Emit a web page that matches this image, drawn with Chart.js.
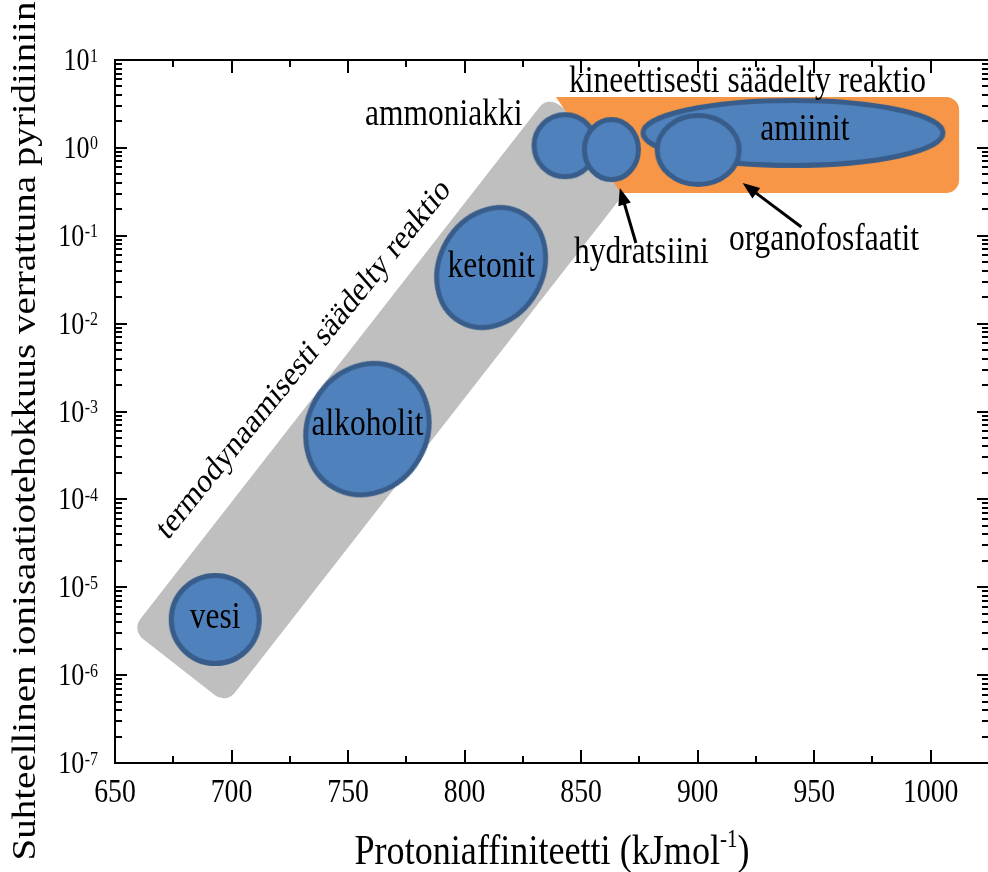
<!DOCTYPE html>
<html>
<head>
<meta charset="utf-8">
<script src="https://cdn.jsdelivr.net/npm/chart.js@4/dist/chart.umd.min.js"></script>
<style>
html,body{margin:0;padding:0;overflow:hidden;background:#fff;}
#wrap{width:995px;height:872px;position:relative;}
</style>
</head>
<body>
<div id="wrap"><canvas id="c"></canvas></div>
<script>
// ---------------- data ----------------
const xTickValues = [650, 700, 750, 800, 850, 900, 950, 1000];
const xTickLabels = ['650', '700', '750', '800', '850', '900', '950', '1000'];
const xMinorTickValues = [675, 725, 775, 825, 875, 925, 975];
const yTickExponents = [-7, -6, -5, -4, -3, -2, -1, 0, 1];
const yMinorMantissas = [2, 3, 4, 5, 6, 7, 8, 9];
const xTitleMain = 'Protoniaffiniteetti (kJmol';
const xTitleSup = '-1';
const xTitleEnd = ')';
const yTitle = 'Suhteellinen ionisaatiotehokkuus verrattuna pyridiiniin';

// compound groups (drawing order) : proton affinity (kJ/mol) and relative efficiency
const groups = ['vesi', 'alkoholit', 'ketonit', 'ammoniakki', 'hydratsiini', 'amiinit', 'organofosfaatit'];
const groupAffinity = [693.0, 758.3, 811.4, 843.1, 863.0, 940.9, 900.2];
const groupEfficiency = [4.3e-6, 6.3e-4, 4.35e-2, 1.06, 0.958, 1.48, 0.946];

// thermodynamically controlled region (inner corners of the rounded band)
const thermoAffinity = [665.6, 696.6, 867.9, 836.8];
const thermoEfficiency = [3.47e-6, 7.87e-7, 0.527, 2.32];
// kinetically controlled region (two pieces)
const kineticAffinity = [876.0, 1006.6, 1006.6, 876.0];
const kineticEfficiency = [2.70, 2.70, 0.431, 0.431];
const kineticEdgeAffinity = [839.2, 876.9, 876.9, 867.0];
const kineticEdgeEfficiency = [3.79, 3.79, 0.3065, 0.3065];

// text annotations
const regionLabels = ['termodynaamisesti säädelty reaktio', 'kineettisesti säädelty reaktio'];
const regionLabelAffinity = [733.5, 921.4];
const regionLabelEfficiency = [3.3e-3, 4.29];
const calloutLabels = ['ammoniakki', 'hydratsiini', 'organofosfaatit'];
const calloutAffinity = [791.1, 875.8, 954.2];
const calloutEfficiency = [1.82, 0.049, 0.0689];
const arrowTailAffinity = [873.5, 944.5];
const arrowTailEfficiency = [0.0827, 0.1258];
const arrowTipAffinity = [866.6, 919.3];
const arrowTipEfficiency = [0.3495, 0.3984];

// ---------------- styles ----------------
const SQ = 0.84; // horizontal squeeze of lettering
const FONT = '"Liberation Serif", "Times New Roman", serif';
const BLUE = '#4f81bd', BLUE_EDGE = '#385d8a', GRAY = '#bfbfbf', ORANGE = '#f79646';
const ellipseStyle = {
  vesi:            {a: 44,   b: 44,   rot: 0,   label: true, dx: 0,  dy: 8.5},
  alkoholit:       {a: 67.5, b: 59.5, rot: -60, label: true, dx: 0,  dy: 6},
  ketonit:         {a: 62.5, b: 51.5, rot: -60, label: true, dx: 0,  dy: 9.5},
  ammoniakki:      {a: 31,   b: 31,   rot: 0},
  hydratsiini:     {a: 27,   b: 30,   rot: 0},
  amiinit:         {a: 150,  b: 32.5, rot: 0,   label: true, dx: 12, dy: 7},
  organofosfaatit: {a: 41,   b: 34.5, rot: 0}
};

function ellipseImage(a, b, lw) {
  const c = document.createElement('canvas');
  const w = Math.ceil(2 * a + lw + 4), h = Math.ceil(2 * b + lw + 4);
  c.width = w; c.height = h;
  const g = c.getContext('2d');
  g.beginPath();
  g.ellipse(w / 2, h / 2, a, b, 0, 0, Math.PI * 2);
  g.fillStyle = BLUE; g.fill();
  g.lineWidth = lw; g.strokeStyle = BLUE_EDGE; g.stroke();
  return c;
}
const pointImages = groups.map(n => ellipseImage(ellipseStyle[n].a, ellipseStyle[n].b, 5));
const pointRotations = groups.map(n => ellipseStyle[n].rot);

function poly(xs, ys) {
  const pts = xs.map((v, i) => ({x: v, y: ys[i]}));
  pts.push({x: xs[0], y: ys[0]});
  return pts;
}

function sqText(ctx, text, x, y, size, align, angleDeg) {
  ctx.save();
  ctx.translate(x, y);
  ctx.scale(SQ, 1);
  if (angleDeg) ctx.rotate(angleDeg * Math.PI / 180);
  ctx.font = size + 'px ' + FONT;
  ctx.textAlign = align;
  ctx.textBaseline = 'alphabetic';
  ctx.fillStyle = '#000';
  ctx.fillText(text, 0, 0);
  ctx.restore();
}
function sqWidth(ctx, text, size) {
  ctx.save();
  ctx.font = size + 'px ' + FONT;
  const w = ctx.measureText(text).width * SQ;
  ctx.restore();
  return w;
}
function arrow(ctx, x0, y0, x1, y1) {
  const ang = Math.atan2(y1 - y0, x1 - x0);
  const hl = 17, hw = 6.5;
  const bx = x1 - hl * Math.cos(ang), by = y1 - hl * Math.sin(ang);
  ctx.beginPath();
  ctx.moveTo(x0, y0); ctx.lineTo(bx + Math.cos(ang), by + Math.sin(ang));
  ctx.lineWidth = 3; ctx.strokeStyle = '#000'; ctx.stroke();
  ctx.beginPath();
  ctx.moveTo(x1, y1);
  ctx.lineTo(bx + hw * Math.sin(ang), by - hw * Math.cos(ang));
  ctx.lineTo(bx - hw * Math.sin(ang), by + hw * Math.cos(ang));
  ctx.closePath(); ctx.fillStyle = '#000'; ctx.fill();
}

const decor = {
  id: 'decor',
  afterDraw(chart) {
    const {ctx, chartArea: a, scales: {x, y}} = chart;
    ctx.save();
    // labels inside the ellipses
    groups.forEach((n, i) => {
      const s = ellipseStyle[n];
      if (!s.label) return;
      sqText(ctx, n, x.getPixelForValue(groupAffinity[i]) + s.dx, y.getPixelForValue(groupEfficiency[i]) + s.dy, 37.5, 'center');
    });
    // region labels
    sqText(ctx, regionLabels[0], x.getPixelForValue(regionLabelAffinity[0]), y.getPixelForValue(regionLabelEfficiency[0]), 34.5, 'center', -46);
    sqText(ctx, regionLabels[1], x.getPixelForValue(regionLabelAffinity[1]), y.getPixelForValue(regionLabelEfficiency[1]), 37.5, 'center');
    // callouts
    calloutLabels.forEach((t, i) => sqText(ctx, t, x.getPixelForValue(calloutAffinity[i]), y.getPixelForValue(calloutEfficiency[i]), 37.5, 'center'));
    arrowTailAffinity.forEach((v, i) => arrow(ctx,
      x.getPixelForValue(v), y.getPixelForValue(arrowTailEfficiency[i]),
      x.getPixelForValue(arrowTipAffinity[i]), y.getPixelForValue(arrowTipEfficiency[i])));

    // frame and inward ticks
    ctx.strokeStyle = '#000'; ctx.lineWidth = 2;
    ctx.strokeRect(a.left, a.top, a.right - a.left, a.bottom - a.top);
    ctx.beginPath();
    xTickValues.forEach(v => {
      const p = Math.round(x.getPixelForValue(v));
      ctx.moveTo(p, a.bottom); ctx.lineTo(p, a.bottom - 13);
      ctx.moveTo(p, a.top); ctx.lineTo(p, a.top + 13);
    });
    xMinorTickValues.forEach(v => {
      const p = Math.round(x.getPixelForValue(v));
      ctx.moveTo(p, a.bottom); ctx.lineTo(p, a.bottom - 7);
      ctx.moveTo(p, a.top); ctx.lineTo(p, a.top + 7);
    });
    yTickExponents.forEach(e => {
      const p = Math.round(y.getPixelForValue(Math.pow(10, e)));
      ctx.moveTo(a.left, p); ctx.lineTo(a.left + 12, p);
      ctx.moveTo(a.right, p); ctx.lineTo(a.right - 12, p);
      if (e < yTickExponents[yTickExponents.length - 1]) {
        yMinorMantissas.forEach(m => {
          const q = Math.round(y.getPixelForValue(m * Math.pow(10, e)));
          ctx.moveTo(a.left, q); ctx.lineTo(a.left + 7, q);
          ctx.moveTo(a.right, q); ctx.lineTo(a.right - 7, q);
        });
      }
    });
    ctx.stroke();

    // x tick labels
    xTickValues.forEach((v, i) => sqText(ctx, xTickLabels[i], x.getPixelForValue(v), a.bottom + 39, 33, 'center'));
    // y tick labels 10^e
    yTickExponents.forEach(e => {
      const p = y.getPixelForValue(Math.pow(10, e));
      const sup = String(e);
      const ws = sqWidth(ctx, sup, 19);
      const right = 98;
      sqText(ctx, sup, right, p + 1.5, 19, 'right');
      sqText(ctx, '10', right - ws - 0.5, p + 10, 31, 'right');
    });
    // x title
    const w1 = sqWidth(ctx, xTitleMain, 43), w2 = sqWidth(ctx, xTitleSup, 25), w3 = sqWidth(ctx, xTitleEnd, 43);
    let sx = 552 - (w1 + w2 + w3) / 2;
    sqText(ctx, xTitleMain, sx, 864, 43, 'left'); sx += w1;
    sqText(ctx, xTitleSup, sx, 847, 25, 'left'); sx += w2;
    sqText(ctx, xTitleEnd, sx, 864, 43, 'left');
    // y title
    sqText(ctx, yTitle, 34.5, 431, 39, 'center', -90);
    ctx.restore();
  }
};

new Chart(document.getElementById('c'), {
  type: 'scatter',
  data: {
    datasets: [
      {
        label: 'Yhdisteryhmät',
        data: groups.map((n, i) => ({x: groupAffinity[i], y: groupEfficiency[i]})),
        pointStyle: pointImages,
        pointRotation: pointRotations,
        pointRadius: 5,
        order: 0
      },
      {
        type: 'line',
        label: 'kineettisesti säädelty reaktio',
        data: poly(kineticAffinity, kineticEfficiency),
        fill: 'shape', backgroundColor: ORANGE, borderColor: ORANGE,
        borderWidth: 26, borderJoinStyle: 'round', borderCapStyle: 'round',
        pointRadius: 0, tension: 0, order: 1
      },
      {
        type: 'line',
        label: 'kineettisesti säädelty reaktio (reuna)',
        data: poly(kineticEdgeAffinity, kineticEdgeEfficiency),
        fill: 'shape', backgroundColor: ORANGE, borderColor: ORANGE,
        borderWidth: 0, pointRadius: 0, tension: 0, order: 1
      },
      {
        type: 'line',
        label: 'termodynaamisesti säädelty reaktio',
        data: poly(thermoAffinity, thermoEfficiency),
        fill: 'shape', backgroundColor: GRAY, borderColor: GRAY,
        borderWidth: 28, borderJoinStyle: 'round', borderCapStyle: 'round',
        pointRadius: 0, tension: 0, order: 2
      }
    ]
  },
  options: {
    responsive: true,
    maintainAspectRatio: false,
    animation: false,
    events: [],
    layout: {padding: {left: 115, top: 60, right: 4, bottom: 109}},
    plugins: {legend: {display: false}, tooltip: {enabled: false}},
    scales: {
      x: {type: 'linear', min: 650, max: 1025, display: false},
      y: {type: 'logarithmic', min: 1e-7, max: 10, display: false}
    }
  },
  plugins: [decor]
});
</script>
</body>
</html>
